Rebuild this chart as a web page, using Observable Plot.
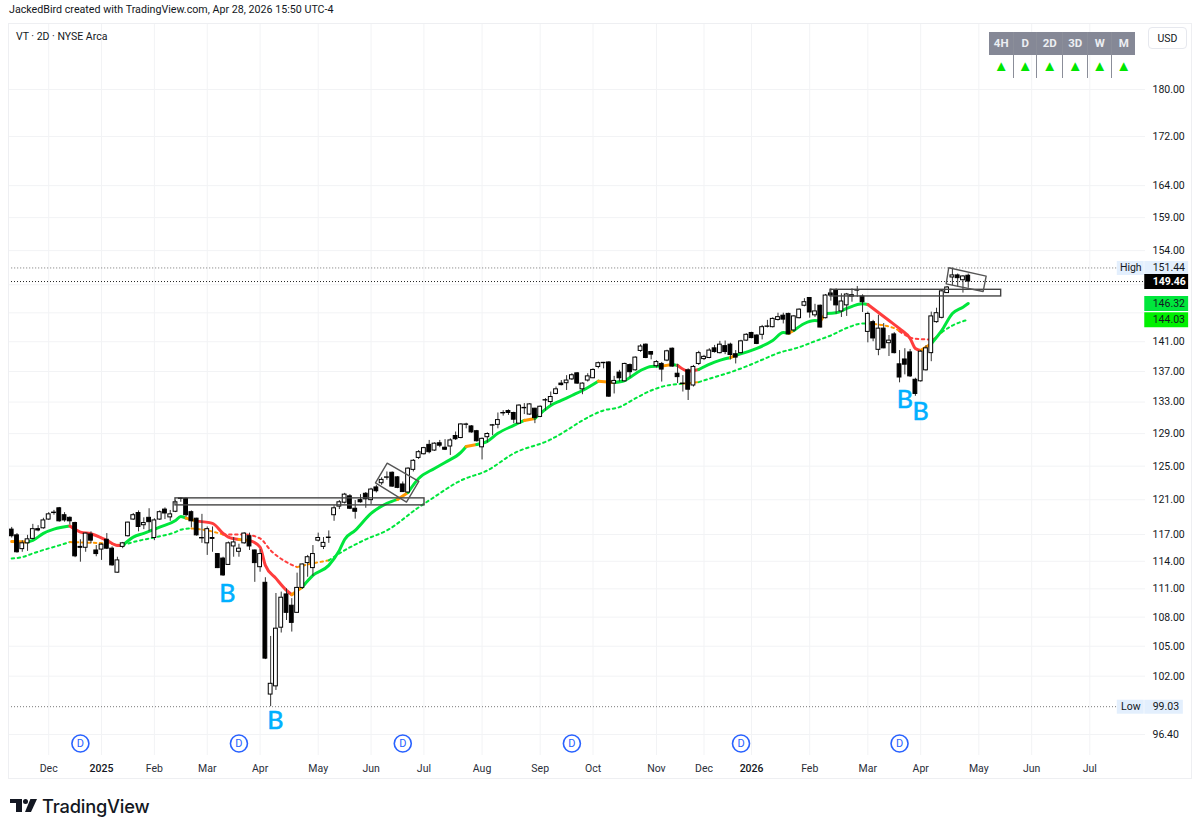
<!DOCTYPE html>
<html><head><meta charset="utf-8">
<script src="https://cdn.jsdelivr.net/npm/d3@7"></script>
<script src="https://cdn.jsdelivr.net/npm/@observablehq/plot@0.6"></script>
<style>
html,body{margin:0;padding:0;background:#fff;font-family:Roboto,sans-serif;color:#131722}
#page{position:relative;width:1200px;height:832px;overflow:hidden}
#head{height:23px;line-height:20px;font-size:10.7px;padding-left:9px;box-sizing:border-box;white-space:nowrap}
#chart svg{display:block}
#box{position:absolute;left:8px;top:23px;width:1184px;height:756px;border:1px solid #eeeff2;box-sizing:border-box;pointer-events:none}
#legend{position:absolute;left:16px;top:30px;font-size:10.5px}
#usd{position:absolute;left:1148px;top:27px;width:39px;height:22px;border:1px solid #e6e8ee;border-radius:4px;box-sizing:border-box;font-size:10.5px;line-height:21px;text-align:center}
#tf{position:absolute;left:989px;top:32px;display:flex}
#tf .c{box-sizing:border-box;height:46px;border-right:1px solid #8b8e99;text-align:center}
#tf .c:last-child{border-right:0}
#tf .h{height:23px;line-height:23px;background:#858896;color:#eceef2;font-size:11.5px;font-weight:700}
#tf .a{height:23px;line-height:23px;color:#00e600;font-size:15px}
#foot{position:absolute;left:42px;top:794px;font-size:18.3px;font-weight:500;letter-spacing:-.2px;line-height:24px;font-family:Inter,Roboto,sans-serif;color:#131722}
.lg{position:absolute;background:#131722}
</style></head><body>
<div id="page">
<div id="head">JackedBird created with TradingView.com, Apr 28, 2026 15:50 UTC-4</div>
<div id="chart"></div>
<div id="box"></div>
<div id="legend">VT · 2D · NYSE Arca</div>
<div id="usd">USD</div>
<div id="tf"></div>
<div class="lg" style="left:10px;top:799px;width:12px;height:4px"></div>
<div class="lg" style="left:16px;top:799px;width:6px;height:13px"></div>
<div class="lg" style="left:23px;top:799px;width:5px;height:5px;border-radius:50%"></div>
<div class="lg" style="left:25px;top:799px;width:12px;height:13px;clip-path:polygon(45% 0,100% 0,50% 100%,0 100%)"></div>
<div id="foot">TradingView</div>
</div>
<script>
const opens = [
117.55,116.9,115.35,116.0,116.5,117.6,117.7,118.7,119.45,120.0,
119.2,118.9,118.3,115.6,115.5,117.0,115.2,115.3,116.4,115.4,
112.75,115.6,116.8,118.7,119.45,118.05,118.9,116.6,118.7,119.85,
118.95,119.6,121.1,121.1,119.55,118.8,116.6,116.0,116.6,114.8,
114.3,113.6,115.65,115.05,116.0,116.8,115.2,113.35,111.65,100.2,
101.0,106.9,110.4,109.2,108.45,111.1,113.8,113.25,116.3,115.6,
116.6,119.2,120.2,120.65,121.4,119.95,120.95,121.7,120.95,122.45,
122.95,123.6,124.2,123.65,122.8,121.85,124.55,126.0,126.45,127.6,
126.9,127.8,127.25,127.4,128.7,128.45,130.1,129.9,129.3,127.3,
128.55,130.0,130.1,131.6,131.85,131.6,130.25,132.2,131.4,132.15,
131.1,133.2,133.0,134.05,135.4,135.45,135.95,136.75,134.65,135.8,
136.1,137.6,138.1,138.2,135.4,136.85,135.7,137.85,137.15,139.75,
140.6,139.6,137.7,138.0,138.45,140.05,136.7,135.4,137.15,135.15,
138.0,138.65,138.8,140.1,139.45,140.4,140.6,139.3,139.45,141.15,
142.2,141.85,141.95,143.05,143.0,144.0,144.6,144.85,142.55,144.25,
146.0,147.1,144.65,146.0,144.25,147.75,148.15,145.2,146.05,147.3,
148.15,147.3,142.35,143.7,139.9,142.8,140.8,142.0,137.95,138.6,
139.55,135.9,135.7,137.15,139.45,143.7,144.3,147.8,150.05,150.35,
149.65,150.3];
const closes = [
116.8,115.0,116.0,116.45,117.6,117.45,118.6,119.3,119.5,118.5,
118.6,118.5,114.55,115.5,117.1,116.3,114.8,115.85,115.4,113.55,
114.1,116.0,118.35,119.2,117.85,118.3,118.4,118.6,119.55,119.4,
119.3,120.7,121.15,119.2,118.5,116.9,116.55,117.6,116.5,113.25,
112.45,116.0,116.1,115.4,117.1,115.65,113.8,114.8,103.75,101.25,
106.8,110.05,108.45,107.4,111.1,113.65,114.45,114.8,116.6,116.05,
116.65,120.0,120.7,121.6,119.95,119.6,120.7,121.05,122.2,122.0,
123.35,123.65,122.55,122.4,121.9,124.7,125.65,126.7,127.2,126.7,
127.75,127.5,127.0,128.15,128.3,130.15,130.15,129.15,128.05,128.35,
128.95,130.05,130.7,131.55,131.6,130.75,132.55,132.25,132.7,130.95,
132.4,133.25,133.65,134.65,135.2,135.8,136.5,135.4,135.4,136.35,
137.2,138.1,138.15,133.7,135.75,136.1,138.0,136.9,138.85,140.35,
138.8,139.25,138.25,137.25,139.7,137.65,136.25,135.35,134.6,137.6,
139.45,138.95,139.8,139.6,140.6,139.6,139.2,138.85,141.05,141.95,
141.5,140.7,143.0,143.1,144.15,144.4,144.05,142.0,144.5,145.45,
146.5,145.05,145.2,142.95,147.45,147.45,146.05,146.6,147.6,147.5,
148.2,146.5,144.85,141.45,142.8,140.1,141.15,139.45,136.2,137.9,
136.35,134.05,139.65,140.1,144.5,144.95,148.05,148.6,150.35,149.95,
150.2,149.46];
const highs = [
117.8,117.1,116.3,116.9,118.15,118.0,118.85,119.5,119.76,120.1,
119.5,119.0,118.4,116.4,117.15,117.3,115.75,115.95,117.1,115.6,
114.45,116.1,118.4,119.4,119.7,118.9,119.95,118.8,119.7,120.05,
119.75,120.9,121.25,121.2,119.7,118.85,119.3,117.85,117.85,114.85,
114.45,116.15,116.65,115.9,117.2,117.15,115.25,115.3,112.2,106.0,
110.5,110.65,111.0,109.95,112.7,113.7,114.65,115.75,117.15,116.65,
117.4,120.3,120.9,121.75,121.6,120.9,121.6,121.85,122.35,122.7,
123.6,124.3,124.3,123.75,123.1,124.8,125.8,126.9,127.3,128.15,
127.85,128.15,128.25,128.35,129.2,130.25,130.3,130.0,129.4,128.45,
129.1,130.15,131.6,131.9,132.0,131.7,132.65,132.8,132.8,132.2,
132.5,133.45,134.3,134.95,135.8,136.45,136.7,136.85,135.5,136.7,
137.35,138.25,138.2,138.3,136.35,137.15,138.1,138.0,138.95,140.6,
140.7,139.65,138.45,138.2,139.85,140.15,137.95,136.45,137.35,137.8,
139.7,139.15,140.05,140.5,141.05,141.1,140.8,139.8,141.2,142.1,
142.3,141.95,143.25,143.95,144.3,144.95,144.95,144.95,144.6,145.55,
147.0,147.15,146.2,146.1,147.6,148.4,148.4,147.7,147.75,148.4,
148.75,147.55,145.1,143.95,144.65,143.5,141.85,142.25,139.8,140.05,
139.95,136.1,139.8,140.45,145.1,145.65,148.15,148.75,151.44,150.55,
150.3,150.55];
const lows = [
116.6,114.9,115.0,115.1,116.4,117.3,117.6,118.6,119.2,118.4,
118.4,118.1,114.4,113.9,115.0,115.95,114.5,114.1,115.3,113.45,
112.7,115.4,116.7,118.6,117.3,117.55,117.3,116.3,118.6,118.7,
118.5,119.5,120.7,119.0,117.75,116.8,116.0,114.65,115.0,113.2,
112.35,113.55,114.45,114.45,115.9,115.2,111.7,112.8,103.65,99.03,
100.6,106.35,107.65,106.45,108.45,110.95,112.25,112.35,116.15,115.3,
116.0,118.5,119.85,120.5,119.85,118.75,120.6,120.0,120.45,121.8,
122.7,123.3,122.45,122.3,121.85,121.8,124.3,125.8,126.35,126.5,
126.8,127.25,126.9,126.3,128.15,128.35,129.6,129.05,127.95,125.75,
127.85,128.75,129.6,131.2,131.3,130.25,130.2,131.4,131.3,130.25,
131.0,131.85,132.55,133.95,135.1,134.5,135.8,135.3,133.95,135.6,
136.05,137.35,137.35,133.6,134.05,135.6,135.6,136.15,137.05,139.55,
138.7,138.55,137.45,135.6,138.3,137.55,135.4,134.3,133.2,134.95,
137.8,138.45,138.7,139.45,139.35,139.25,138.55,138.0,139.35,141.05,
141.4,140.6,141.25,142.9,142.9,143.85,143.45,141.95,142.3,144.15,
145.85,144.25,144.35,142.9,144.15,146.65,144.8,144.35,144.5,146.5,
147.2,145.05,140.85,141.0,139.1,140.05,139.0,139.35,135.5,136.55,
136.2,133.75,135.6,137.05,138.3,143.55,144.15,147.75,148.85,148.65,
147.8,148.5];

const fastBars = [0,3,4,6,8,11,13,15,18,20,21,23,25,28,31,32,33,35,38,40,41,43,45,47,48,50,52,53,55,57,60,62,63,65,68,71,73,75,77,80,82,85,86,88,90,92,95,97,99,102,104,106,108,111,114,116,119,121,123,125,126,128,130,133,135,136,137,141,144,146,147,148,150,152,153,154,156,158,161,162,163,166,168,170,171,172,174,176,178,180,181];
const fastVals = [116.2,116.15,116.33,117.12,117.6,117.95,117.27,117.08,116.33,115.77,115.77,116.7,117.12,117.83,118.6,119.06,118.87,118.52,118.26,117.12,116.7,116.44,116.33,115.58,113.55,112.13,110.83,110.37,111.19,112.45,113.55,115.21,116.44,117.46,119.41,120.57,121.04,121.86,123.52,124.72,125.45,126.67,127.4,127.65,128.03,129.03,130.03,130.66,130.91,132.57,133.21,133.85,134.5,135.72,135.55,135.81,137.13,137.67,137.71,137.94,137.8,137.04,137.26,138.24,138.7,138.84,139.15,140.08,141.17,142.27,142.17,142.55,143.51,143.93,143.83,144.9,145.0,145.62,146.28,146.18,145.62,143.93,142.79,141.45,140.08,139.81,140.72,142.55,144.9,145.8,146.32];
const fastTrend = {0:"o",3:"g",11:"r",21:"g",33:"o",35:"r",43:"o",45:"r",53:"o",55:"g",73:"o",75:"g",86:"o",88:"g",97:"o",99:"g",111:"o",114:"g",123:"o",125:"g",126:"r",130:"g",136:"o",137:"g",147:"o",148:"g",153:"o",154:"g",162:"r",172:"o",174:"g"};

const slowBars = [0,2,4,7,9,11,13,18,21,23,27,31,32,34,37,40,44,47,49,52,54,57,60,62,67,71,77,79,85,90,95,102,105,108,112,115,118,121,124,127,130,133,136,139,142,145,149,152,155,158,161,162,167,168,171,174,175,176,178,181];
const slowVals = [114.32,114.46,114.87,115.43,115.77,116.14,116.1,115.99,115.77,116.14,116.67,117.27,117.54,117.69,117.46,117.0,117.0,116.55,115.21,113.91,113.36,113.77,114.1,114.87,116.44,117.46,120.11,120.92,123.28,124.48,126.55,128.27,129.4,130.66,131.93,132.35,133.47,134.5,135.15,135.37,135.59,136.25,136.9,137.67,138.56,139.45,140.25,141.07,141.86,142.88,143.51,143.51,142.88,142.41,141.41,141.31,141.62,142.31,143.23,144.03];
const slowTrend = {0:"g",11:"o",21:"g",34:"o",40:"r",54:"o",60:"g",127:"o",130:"g",162:"o",168:"r",175:"o",176:"g"};

const trendColors = {g:"#00e63c",r:"#ff3d3d",o:"#ff9800"};

const priceTicks = [180,172,164,159,154,141,137,133,129,125,121,117,114,111,108,105,102,96.4];
const hiddenGridPrices = [149,145];
const monthBars = [7,27,37,47,58,68,78,89,100,110,122,131,151,162,172,183,193,204];
const monthNames = ["Dec","Feb","Mar","Apr","May","Jun","Jul","Aug","Sep","Oct","Nov","Dec","Feb","Mar","Apr","May","Jun","Jul"];
const yearBars = [17,140];
const yearNames = ["2025","2026"];

const dividendBars = [13,43,74,106,138,168];
const dividendPrice = 95.56;

const buyBars = [40.8,49.9,169,172];
const buyPrices = [110.43,97.7,133.21,131.68];

const zoneBars = [[30.99,78.11],[154.93,187.23]];
const zonePrices = [[121.16,120.34],[148.27,147.32]];
const flagA = [[71.05,125.36],[77.03,123.16],[74.7,120.72],[68.84,123.0],[71.05,125.36]];
const flagB = [[177.31,151.47],[184.39,150.25],[183.82,148.03],[176.82,149.13],[177.31,151.47]];

const highPrice = 151.44, lowPrice = 99.03, lastPrice = 149.46, fastLast = 146.32, slowLast = 144.03;
const tagLeftBar = 214.4, tagRightBar = 222.7, tagTextBar = 215.9;
const nameLeftBar = 209.2, nameRightBar = 214.3;

const timeframes = ["4H","D","2D","3D","W","M"];
const tfWidths = [25.3,23,26,25,24,23];

const bars = opens.map((o,i)=>({i,o,c:closes[i],h:highs[i],l:lows[i],up:closes[i]>=o}));
function trendSeries(idx,vals,trend){let cur="g";return idx.map((b,k)=>{if(trend[b])cur=trend[b];return {b,v:vals[k],c:trendColors[cur]};});}
const fast = trendSeries(fastBars,fastVals,fastTrend);
const slow = trendSeries(slowBars,slowVals,slowTrend);
const zones = zoneBars.map((b,k)=>({x1:b[0],x2:b[1],y1:zonePrices[k][0],y2:zonePrices[k][1]}));
const monthLabel = new Map(monthBars.map((b,k)=>[b,monthNames[k]]));
const yearLabel = new Map(yearBars.map((b,k)=>[b,yearNames[k]]));
const ink = "#131722";

const plot = Plot.plot({
  width:1200, height:757,
  marginLeft:8, marginRight:55, marginTop:0, marginBottom:25,
  style:{fontFamily:"Roboto,sans-serif",fontSize:"10.5px",background:"transparent",overflow:"visible"},
  x:{type:"linear",domain:[0,204],range:[11.2,1089.3]},
  y:{type:"log",domain:[96.4,180],range:[711,66]},
  color:{type:"identity"},
  marks:[
    Plot.ruleY([...priceTicks,...hiddenGridPrices],{stroke:"#f2f3f5"}),
    Plot.ruleX([...monthBars,...yearBars],{stroke:"#f2f3f5"}),
    Plot.axisY(priceTicks,{anchor:"right",tickSize:0,tickPadding:7,label:null,fill:ink,tickFormat:d=>d.toFixed(2)}),
    Plot.axisX(monthBars,{anchor:"bottom",tickSize:0,tickPadding:9,label:null,fill:"#2a2e39",tickFormat:d=>monthLabel.get(d)}),
    Plot.axisX(yearBars,{anchor:"bottom",tickSize:0,tickPadding:9,label:null,fill:ink,fontWeight:500,tickFormat:d=>yearLabel.get(d)}),

    Plot.ruleY([highPrice],{x1:0,x2:nameLeftBar,stroke:"#777",strokeDasharray:"1,2"}),
    Plot.ruleY([lowPrice],{x1:-0.6,x2:nameLeftBar,stroke:"#777",strokeDasharray:"1,2"}),
    Plot.ruleY([lastPrice],{stroke:"#222",strokeDasharray:"1,2"}),

    Plot.line(slow,{x:"b",y:"v",z:null,stroke:"c",strokeWidth:2,strokeDasharray:"2.5,3.5",curve:"monotone-x"}),
    Plot.line(fast,{x:"b",y:"v",z:null,stroke:"c",strokeWidth:3,curve:"monotone-x"}),

    Plot.ruleX(bars,{x:"i",y1:"l",y2:"h",stroke:"#333",strokeWidth:1}),
    Plot.rect(bars,{x1:d=>d.i-0.36,x2:d=>d.i+0.36,y1:"o",y2:"c",fill:d=>d.up?"#ffffff":"#000000",stroke:"#000",strokeWidth:1}),

    Plot.rect(zones,{x1:"x1",x2:"x2",y1:"y1",y2:"y2",fill:"none",stroke:"#444",strokeWidth:1.4}),
    Plot.line(flagA,{x:d=>d[0],y:d=>d[1],stroke:"#555",strokeWidth:1.4}),
    Plot.line(flagB,{x:d=>d[0],y:d=>d[1],stroke:"#555",strokeWidth:1.4}),

    Plot.text(buyBars.map((b,k)=>({b,p:buyPrices[k]})),{x:"b",y:"p",text:()=>"B",fill:"#00b0ff",stroke:"#00b0ff",strokeWidth:0.6,fontSize:25,fontFamily:"Lato,sans-serif"}),

    Plot.dot(dividendBars,{x:d=>d,y:()=>dividendPrice,r:8.5,fill:"#fff",stroke:"#2962ff",strokeWidth:1.6}),
    Plot.text(dividendBars,{x:d=>d,y:()=>dividendPrice,text:()=>"D",fill:"#2962ff",fontSize:11}),

    Plot.ruleY([highPrice],{x1:nameLeftBar,x2:nameRightBar,stroke:"#e3effd",strokeWidth:14}),
    Plot.ruleY([highPrice],{x1:tagLeftBar,x2:tagRightBar,stroke:"#e3effd",strokeWidth:14}),
    Plot.ruleY([lowPrice],{x1:nameLeftBar,x2:nameRightBar,stroke:"#e3effd",strokeWidth:14}),
    Plot.ruleY([lowPrice],{x1:tagLeftBar,x2:tagRightBar-1,stroke:"#e3effd",strokeWidth:14}),
    Plot.ruleY([lastPrice],{x1:tagLeftBar,x2:tagRightBar,stroke:"#000",strokeWidth:15}),
    Plot.ruleY([fastLast],{x1:tagLeftBar,x2:tagRightBar,stroke:"#00e63c",strokeWidth:15}),
    Plot.ruleY([slowLast],{x1:tagLeftBar,x2:tagRightBar,stroke:"#00f000",strokeWidth:15}),
    Plot.text([highPrice,lowPrice,fastLast,slowLast],{x:()=>tagTextBar,y:d=>d,text:d=>d.toFixed(2),fill:ink,textAnchor:"start"}),
    Plot.text([lastPrice],{x:()=>tagTextBar,y:d=>d,text:d=>d.toFixed(2),fill:"#fff",fontWeight:700,textAnchor:"start"}),
    Plot.text([highPrice],{x:()=>(nameLeftBar+nameRightBar)/2,y:d=>d,text:()=>"High",fill:ink}),
    Plot.text([lowPrice],{x:()=>(nameLeftBar+nameRightBar)/2,y:d=>d,text:()=>"Low",fill:ink})
  ]
});
document.getElementById("chart").append(plot);
const tf = document.getElementById("tf");
timeframes.forEach((t,k)=>{
  const c = document.createElement("div"); c.className="c"; c.style.width=tfWidths[k]+"px";
  c.innerHTML = `<div class="h">${t}</div><div class="a">▲</div>`;
  tf.append(c);
});
</script>
</body></html>
